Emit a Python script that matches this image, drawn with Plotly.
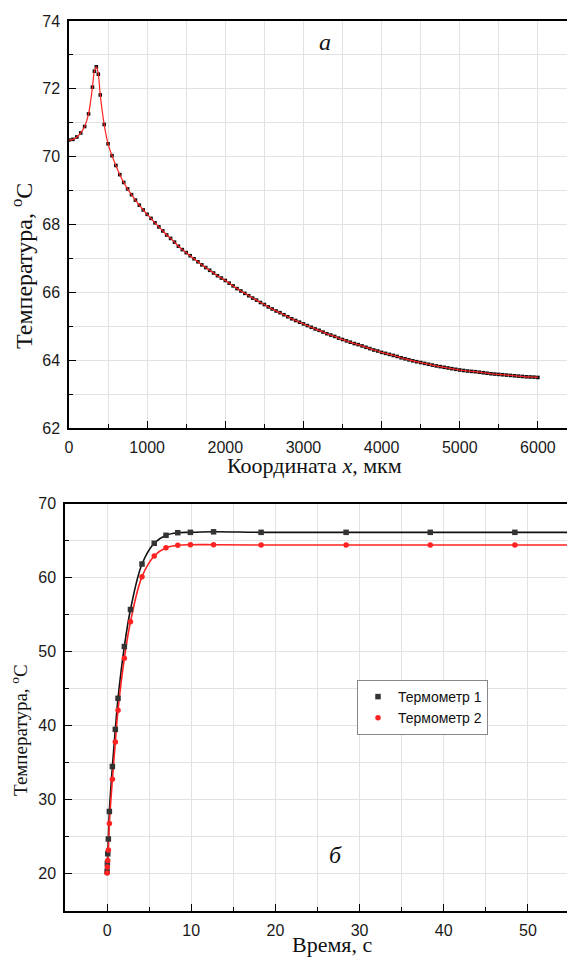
import plotly.graph_objects as go

# ---------------- data: top chart (temperature profile along x) ----------------
X_UM = [0, 50, 100, 150, 200, 250, 300, 325, 350, 375,
        400, 450, 500, 550, 600, 650, 700, 750, 800, 850,
        900, 950, 1000, 1050, 1100, 1150, 1200, 1250, 1300, 1350,
        1400, 1450, 1500, 1550, 1600, 1650, 1700, 1750, 1800, 1850,
        1900, 1950, 2000, 2050, 2100, 2150, 2200, 2250, 2300, 2350,
        2400, 2450, 2500, 2550, 2600, 2650, 2700, 2750, 2800, 2850,
        2900, 2950, 3000, 3050, 3100, 3150, 3200, 3250, 3300, 3350,
        3400, 3450, 3500, 3550, 3600, 3650, 3700, 3750, 3800, 3850,
        3900, 3950, 4000, 4050, 4100, 4150, 4200, 4250, 4300, 4350,
        4400, 4450, 4500, 4550, 4600, 4650, 4700, 4750, 4800, 4850,
        4900, 4950, 5000, 5050, 5100, 5150, 5200, 5250, 5300, 5350,
        5400, 5450, 5500, 5550, 5600, 5650, 5700, 5750, 5800, 5850,
        5900, 5950, 6000]
T_PROFILE = [70.49, 70.51, 70.58, 70.70, 70.89, 71.26, 72.05, 72.52, 72.65, 72.43,
             71.82, 70.95, 70.38, 70.03, 69.74, 69.47, 69.24, 69.05, 68.88, 68.72,
             68.57, 68.43, 68.30, 68.18, 68.05, 67.93, 67.81, 67.69, 67.59, 67.48,
             67.36, 67.26, 67.17, 67.08, 66.99, 66.90, 66.81, 66.73, 66.65, 66.57,
             66.49, 66.42, 66.35, 66.27, 66.19, 66.11, 66.04, 65.97, 65.90, 65.83,
             65.77, 65.70, 65.64, 65.57, 65.51, 65.45, 65.40, 65.34, 65.28, 65.22,
             65.17, 65.12, 65.07, 65.02, 64.97, 64.92, 64.88, 64.83, 64.78, 64.74,
             64.70, 64.65, 64.61, 64.57, 64.53, 64.49, 64.46, 64.42, 64.38, 64.34,
             64.30, 64.27, 64.23, 64.20, 64.17, 64.14, 64.11, 64.07, 64.04, 64.01,
             63.98, 63.955, 63.93, 63.905, 63.88, 63.855, 63.83, 63.81, 63.79, 63.77,
             63.75, 63.73, 63.71, 63.695, 63.68, 63.67, 63.66, 63.645, 63.63, 63.615,
             63.60, 63.59, 63.58, 63.57, 63.56, 63.55, 63.54, 63.53, 63.52, 63.51,
             63.505, 63.50, 63.49]

# ---------------- data: bottom chart (thermometers vs time) ----------------
TIME_S = [0, 0.03, 0.08, 0.15, 0.27, 0.63, 0.98, 1.3, 2.05, 2.78,
          4.15, 5.6, 7.0, 8.4, 9.9, 12.65, 18.3, 28.4, 38.4, 48.45, 58.4]
T_THERMO1 = [20.3, 21.4, 22.7, 24.7, 28.4, 34.5, 39.5, 43.7, 50.7, 55.7,
             61.85, 64.65, 65.73, 66.08, 66.13, 66.2, 66.13, 66.13, 66.13, 66.13, 66.13]
T_THERMO2 = [20.1, 20.9, 21.8, 23.2, 26.8, 32.75, 37.8, 42.1, 49.1, 54.05,
             60.14, 62.93, 64.05, 64.38, 64.46, 64.46, 64.42, 64.42, 64.42, 64.42, 64.42]
SERIES_NAMES = ["Термометр 1", "Термометр 2"]

# the page body has an 8px margin, so the figure is placed at (8, 8) in the window
OFF = 8
W, H = 575 - OFF, 957 - OFF
def fx(p):
    return (p - OFF) / W
def fy(p):
    return 1 - (p - OFF) / H

RED = "#ff2222"
BLACK = "#111111"
GRID = "#e2e2e2"
TICKFONT = dict(family="Liberation Sans, Arial, sans-serif", size=16, color="#1a1a1a")
SERIF = "Liberation Serif, Times New Roman, serif"

fig = go.Figure()

# top chart
fig.add_trace(go.Scatter(x=X_UM, y=T_PROFILE, mode="markers",
                         marker=dict(symbol="square", size=3.6, color=BLACK),
                         xaxis="x", yaxis="y", showlegend=False, hoverinfo="skip"))
fig.add_trace(go.Scatter(x=X_UM, y=T_PROFILE, mode="lines",
                         line=dict(color=RED, width=1.2, shape="spline"),
                         xaxis="x", yaxis="y", showlegend=False))

# bottom chart lines
fig.add_trace(go.Scatter(x=TIME_S, y=T_THERMO1, mode="lines",
                         line=dict(color=BLACK, width=1.6, shape="spline"),
                         xaxis="x2", yaxis="y2", showlegend=False))
fig.add_trace(go.Scatter(x=TIME_S, y=T_THERMO2, mode="lines",
                         line=dict(color=RED, width=1.6, shape="spline"),
                         xaxis="x2", yaxis="y2", showlegend=False))
# bottom chart markers (legend)
fig.add_trace(go.Scatter(x=TIME_S, y=T_THERMO1, mode="markers", name=SERIES_NAMES[0],
                         marker=dict(symbol="square", size=5.5, color="#333333"),
                         xaxis="x2", yaxis="y2"))
fig.add_trace(go.Scatter(x=TIME_S, y=T_THERMO2, mode="markers", name=SERIES_NAMES[1],
                         marker=dict(symbol="circle", size=5.5, color=RED),
                         xaxis="x2", yaxis="y2"))

def axis(**kw):
    base = dict(showline=True, linecolor="black", linewidth=1.5,
                ticks="inside", tickcolor="black", tickwidth=1.2, ticklen=7,
                showgrid=True, gridcolor=GRID, gridwidth=1, zeroline=False,
                tickfont=TICKFONT, ticklabelstandoff=4, automargin=False)
    base.update(kw)
    return base

minor = lambda d: dict(dtick=d, ticks="inside", ticklen=4, tickcolor="black",
                       tickwidth=1, showgrid=True, gridcolor=GRID, gridwidth=1)

fig.update_layout(
    width=W, height=H, autosize=False,
    margin=dict(l=0, r=0, t=0, b=0, pad=0, autoexpand=False),
    paper_bgcolor="white", plot_bgcolor="white",
    xaxis=axis(domain=[fx(69), 1.0], range=[0, 6475], tick0=0, dtick=1000,
               minor=minor(500), mirror=True, anchor="y"),
    yaxis=axis(domain=[fy(428), fy(21)], range=[62, 74], tick0=62, dtick=2,
               minor=minor(1), mirror=False, anchor="x"),
    xaxis2=axis(domain=[fx(65), fx(570)], range=[-5, 55], tick0=0, dtick=10,
                minor=minor(5), mirror=True, anchor="y2"),
    yaxis2=axis(domain=[fy(910.7), fy(503.7)], range=[15, 70], tick0=0, dtick=10,
                minor=minor(5), mirror=True, anchor="x2"),
    legend=dict(x=fx(357), y=fy(680), xanchor="left", yanchor="top",
                bordercolor="#888888", borderwidth=1, bgcolor="white",
                font=dict(family="Liberation Sans, Arial, sans-serif", size=14, color="#111"),
                tracegroupgap=0, itemwidth=30),
    showlegend=True,
)

def ann(text, x, y, size, angle=0):
    fig.add_annotation(text=text, x=fx(x), y=fy(y), xref="paper", yref="paper",
                       xanchor="center", yanchor="middle", showarrow=False,
                       textangle=angle,
                       font=dict(family=SERIF, size=size, color="#111"))

ann("<i>а</i>", 325, 42, 24)
ann("<i>б</i>", 335, 855, 24)
ann("Координата <i>x</i>, мкм", 314, 465, 22)
ann("Температура, <sup>o</sup>C", 22, 266, 24, angle=-90)
ann("Время, с", 332, 944, 22)
ann("Температура, <sup>o</sup>C", 19, 730, 19, angle=-90)

fig.write_html("out.html")
